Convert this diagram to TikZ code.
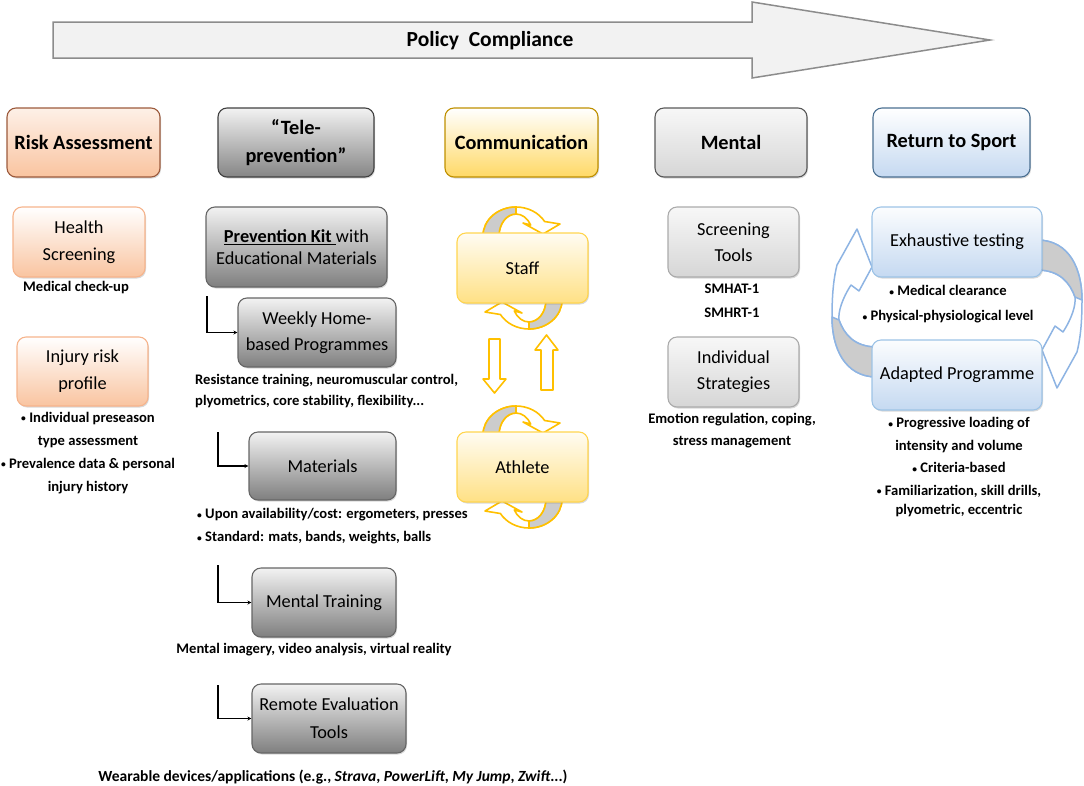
\documentclass[tikz,border=0pt]{standalone}
\usepackage{fontspec}
\setmainfont{Carlito}
\usetikzlibrary{shadows,arrows.meta}

\definecolor{riskline}{HTML}{9C5A3C}
\definecolor{risklite}{HTML}{F6B48C}
\definecolor{riskfill}{HTML}{F9C4A0}
\definecolor{teleline}{HTML}{404040}
\definecolor{telefill}{HTML}{858585}
\definecolor{commline}{HTML}{BF9000}
\definecolor{commfill}{HTML}{FFD966}
\definecolor{commlite}{HTML}{FFD54F}
\definecolor{mentline}{HTML}{595959}
\definecolor{mentfill}{HTML}{D6D6D6}
\definecolor{rtsline}{HTML}{4A6F91}
\definecolor{rtsfill}{HTML}{C5D9F1}
\definecolor{rtslite}{HTML}{9DC3E6}
\definecolor{bandgold}{HTML}{FFC000}
\definecolor{bandblue}{HTML}{8EB4E3}

\newcommand{\blt}{\raisebox{0.5pt}{\fontsize{9.5}{9.5}\selectfont\textbullet}\ }

\tikzset{
  box/.style={rounded corners=9pt, align=center, inner sep=2pt, line width=1.1pt,
    drop shadow={shadow xshift=1pt, shadow yshift=-1.5pt, opacity=0.3}},
  head/.style={box, minimum height=69pt, font=\bfseries\fontsize{20.3}{28}\selectfont},
  item/.style={box, minimum height=70pt, font=\fontsize{18.3}{27}\selectfont},
  note/.style={font=\bfseries\fontsize{14.6}{23}\selectfont, align=center, inner sep=0pt},
  riskhead/.style={head, draw=riskline, top color=riskfill!25, bottom color=riskfill},
  riskitem/.style={item, draw=risklite, top color=white, bottom color=riskfill},
  telehead/.style={head, draw=teleline, top color=white!95!black, bottom color=telefill},
  teleitem/.style={item, draw=teleline!80, top color=white!95!black, bottom color=telefill!105},
  commhead/.style={head, draw=commline, top color=white, bottom color=commfill},
  commitem/.style={item, draw=commlite, top color=white!92!commfill, bottom color=commfill!80},
  menthead/.style={head, draw=mentline, top color=white!97!black, bottom color=mentfill},
  mentitem/.style={item, draw=mentfill!80!black, top color=white!97!black, bottom color=mentfill},
  rtshead/.style={head, draw=rtsline, top color=white, bottom color=rtsfill},
  rtsitem/.style={item, draw=rtslite, top color=white!94!rtsfill, bottom color=rtsfill},
  elbow/.style={line width=1.3pt, -{Stealth[length=4pt,width=4pt]}},
  goldband/.style={draw=bandgold, line width=1.6pt, line join=round},
  blueband/.style={draw=bandblue, line width=1.5pt, line join=round},
  cyclearrow/.pic={
    \draw[goldband, fill=white] (-39.5,-32) .. controls (-39.5,-48) and (-24.7,-61) .. (-6.5,-61)
      .. controls (5.3,-61) and (16.2,-55.5) .. (22.1,-46.5)
      -- (37.5,-44) -- (20.5,-34) -- (0.5,-45) -- (8.2,-43)
      .. controls (5.2,-49.8) and (-0.4,-54) .. (-6.5,-54)
      .. controls (-15.9,-54) and (-23.5,-44.2) .. (-23.5,-32) -- cycle;
    \draw[goldband, fill=gray!40] (-39.5,-32) .. controls (-39.5,-48) and (-24.7,-61) .. (-6.5,-61)
      -- (-6.5,-54) .. controls (-15.9,-54) and (-23.5,-44.2) .. (-23.5,-32) -- cycle;
  },
  loopband/.pic={
    \draw[blueband, fill=white] (80,-68.5) .. controls (113,-68.5) and (125,-38.5) .. (125,-8.5)
      .. controls (125,16.5) and (123,31.5) .. (120,43.5) -- (100,79.5) -- (85,41.5) -- (98,17.5)
      -- (106,23.5) .. controls (115,9.5) and (119,-3.5) .. (118,-11.5)
      .. controls (113,-25.5) and (103,-38.5) .. (80,-38.5) -- cycle;
    \draw[blueband, fill=gray!40] (80,-68.5) .. controls (113,-68.5) and (125,-38.5) .. (125,-8.5)
      -- (118,-11.5) .. controls (113,-25.5) and (103,-38.5) .. (80,-38.5) -- cycle;
  }
}

\begin{document}
\begin{tikzpicture}[x=1pt, y=-1pt]
\useasboundingbox (0,0) rectangle (1084,785);

% policy arrow
\draw[fill=white!95!black, draw=black!45, line width=1.5pt]
  (53,22) -- (752,22) -- (752,2) -- (990,40) -- (752,78) -- (752,58) -- (53,58) -- cycle;
\node[font=\bfseries\fontsize{21.5}{24}\selectfont] (policy) at (490,41) {Policy\ \ Compliance};

% headers
\node[riskhead, minimum width=153pt] (risk) at (83.5,142.5) {Risk Assessment};
\node[telehead, minimum width=156pt] (tele) at (296,142.5) {``Tele-\\prevention''};
\node[commhead, minimum width=153pt] (comm) at (521.5,142.5) {Communication};
\node[menthead, minimum width=152pt] (mental) at (731,142.5) {Mental};
\node[rtshead, minimum width=157pt] (rts) at (951.5,142.5) {Return to Sport};

% risk assessment
\node[riskitem, minimum width=132pt] (health) at (79,242) {Health\\Screening};
\node[note] (checkup) at (76,288) {Medical check-up};
\node[riskitem, minimum width=131pt, minimum height=69pt] (injury) at (82.5,371.5) {Injury risk\\profile};
\node[note] (injurynote) at (88,453) {\blt Individual preseason\\type assessment\\\blt Prevalence data \& personal\\injury history};

% tele-prevention
\node[teleitem, minimum width=181pt, minimum height=80pt, font=\fontsize{18.3}{22}\selectfont] (kit) at (296.5,247)
  {\textbf{\underline{Prevention Kit }}with\\Educational Materials};
\node[teleitem, minimum width=158pt, minimum height=69pt, font=\fontsize{18.3}{26}\selectfont] (weekly) at (317,332.5) {Weekly Home-\\based Programmes};
\node[note, anchor=west, align=left, font=\bfseries\fontsize{14.6}{21}\selectfont] (weeklynote) at (195,391.5)
  {Resistance training, neuromuscular control,\\plyometrics, core stability, flexibility...};
\node[teleitem, minimum width=147pt, minimum height=68pt] (materials) at (322.5,466) {Materials};
\node[note, anchor=west, align=left] (matnote) at (197,526.5)
  {\blt Upon availability/cost: ergometers, presses\\\blt Standard: mats, bands, weights, balls};
\node[teleitem, minimum width=144pt, minimum height=69pt] (mtrain) at (324,602.5) {Mental Training};
\node[note] (mtrainnote) at (314,650) {Mental imagery, video analysis, virtual reality};
\node[teleitem, minimum width=154pt, minimum height=69pt, font=\fontsize{18.3}{28}\selectfont] (remote) at (329,718.5) {Remote Evaluation\\Tools};
\node[note, font=\bfseries\fontsize{15.5}{23}\selectfont] (remotenote) at (333,777)
  {Wearable devices/applications (e.g., \textit{Strava}, \textit{PowerLift}, \textit{My Jump}, \textit{Zwift}...)};

\coordinate (k1) at (207,296);
\coordinate (k2) at (218,432);
\coordinate (k3) at (218,565);
\coordinate (k4) at (218,685);
\draw[elbow] (k1) |- (weekly.west);
\draw[elbow] (k2) |- (materials.west);
\draw[elbow] (k3) |- (mtrain.west);
\draw[elbow] (k4) |- (remote.west);

% communication
\coordinate (staffc) at (522.5,268);
\coordinate (athc) at (522.5,467);
\pic at (staffc) {cyclearrow};
\pic[rotate=180] at (staffc) {cyclearrow};
\pic at (athc) {cyclearrow};
\pic[rotate=180] at (athc) {cyclearrow};
\node[commitem, minimum width=131pt] (staff) at (staffc) {Staff};
\node[commitem, minimum width=131pt] (athlete) at (athc) {Athlete};
\draw[goldband, fill=white] (489,339) -- (500,339) -- (500,379) -- (506,379) -- (494.5,393) -- (483,379) -- (489,379) -- cycle;
\draw[goldband, fill=white] (541,390) -- (553,390) -- (553,350) -- (558,350) -- (546.5,335) -- (535,350) -- (541,350) -- cycle;

% mental
\node[mentitem, minimum width=131pt, font=\fontsize{18.3}{26}\selectfont] (screen) at (733.5,242) {Screening\\Tools};
\node[note, font=\bfseries\fontsize{14.6}{24}\selectfont] (smhat) at (732,301) {SMHAT-1\\SMHRT-1};
\node[mentitem, minimum width=131pt, font=\fontsize{18.3}{26}\selectfont] (strat) at (733.5,372) {Individual\\Strategies};
\node[note, font=\bfseries\fontsize{14.6}{22}\selectfont] (stratnote) at (732,431) {Emotion regulation, coping,\\stress management};

% return to sport
\coordinate (rtsc) at (957,308.5);
\pic at (rtsc) {loopband};
\pic[rotate=180] at (rtsc) {loopband};
\node[rtsitem, minimum width=170pt] (exh) at (957,242) {Exhaustive testing};
\node[note, font=\bfseries\fontsize{14.6}{25}\selectfont] (exhnote) at (948,304.5) {\blt Medical clearance\\\blt Physical-physiological level};
\node[rtsitem, minimum width=170pt] (adapt) at (957,375) {Adapted Programme};
\node[note, font=\bfseries\fontsize{14.6}{22.5}\selectfont] (adaptnote) at (959,467)
  {\blt Progressive loading of\\intensity and volume\\\blt Criteria-based\\\blt Familiarization, skill drills,\\[-3.5pt]plyometric, eccentric};
\end{tikzpicture}
\end{document}
